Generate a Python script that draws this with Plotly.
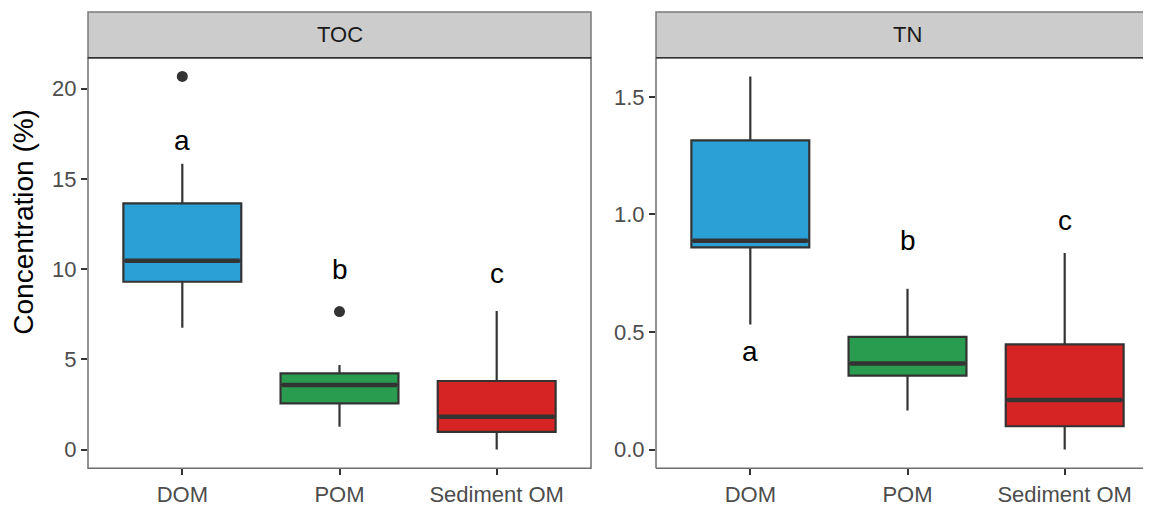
import plotly.graph_objects as go

categories = ["DOM", "POM", "Sediment OM"]
colors = ["#2ba0d7", "#2a9c4f", "#d62424"]

toc_lower = [6.75, 1.27, 0.0]
toc_q1 = [9.3, 2.56, 0.98]
toc_median = [10.46, 3.58, 1.82]
toc_q3 = [13.64, 4.22, 3.8]
toc_upper = [15.84, 4.68, 7.68]
toc_out_x = [0, 1]
toc_out_y = [20.68, 7.65]
toc_letters = ["a", "b", "c"]
toc_letter_y = [17.15, 10.0, 9.74]

tn_lower = [0.532, 0.166, 0.0]
tn_q1 = [0.86, 0.314, 0.099]
tn_median = [0.888, 0.366, 0.211]
tn_q3 = [1.315, 0.479, 0.447]
tn_upper = [1.587, 0.684, 0.836]
tn_letters = ["a", "b", "c"]
tn_letter_y = [0.415, 0.888, 0.972]

W, H = 1151, 507       # page (window) size
OFF = 8                # default body margin of the html page
FW, FH = W - OFF, H - OFF
BOXW = 0.75
FONT = "Liberation Sans, Arial, sans-serif"

# layout geometry (page pixels)
p1_l, p1_r = 88, 591
p2_l = 656
unit = (p1_r - p1_l) / 3.2
p2_r_full = p2_l + 3.2 * unit
top_px, bot_px, strip_top = 58, 471, 12


def fx(px):
    return (px - OFF) / FW


def fy(py):
    return 1 - (py - OFF) / FH


fig = go.Figure()

panels = [
    ("x", "y", toc_lower, toc_q1, toc_median, toc_q3, toc_upper, toc_letters, toc_letter_y),
    ("x2", "y2", tn_lower, tn_q1, tn_median, tn_q3, tn_upper, tn_letters, tn_letter_y),
]

for xa, ya, lo, q1, med, q3, up, letters, ly in panels:
    for i, c in enumerate(categories):
        fig.add_trace(go.Box(
            x=[i], q1=[q1[i]], median=[med[i]], q3=[q3[i]],
            lowerfence=[lo[i]], upperfence=[up[i]],
            width=BOXW, whiskerwidth=0,
            fillcolor=colors[i], line=dict(color="#333333", width=2.2),
            xaxis=xa, yaxis=ya, showlegend=False, hoverinfo="skip",
            boxpoints=False,
        ))
        fig.add_trace(go.Scatter(
            x=[i - BOXW / 2 + 0.01, i + BOXW / 2 - 0.01], y=[med[i], med[i]],
            mode="lines", line=dict(color="#333333", width=4.5),
            xaxis=xa, yaxis=ya, showlegend=False, hoverinfo="skip",
        ))
        fig.add_annotation(
            x=i, y=ly[i], xref=xa, yref=ya, text=letters[i], showarrow=False,
            yanchor="middle", xanchor="center",
            font=dict(family=FONT, size=28, color="#000000"),
        )

fig.add_trace(go.Scatter(
    x=toc_out_x, y=toc_out_y, mode="markers",
    marker=dict(color="#333333", size=11),
    xaxis="x", yaxis="y", showlegend=False, hoverinfo="skip",
))

tickfont = dict(family=FONT, size=22, color="#4d4d4d")
common_x = dict(
    tickmode="array", tickvals=[0, 1, 2], ticktext=categories,
    showgrid=False, zeroline=False, showline=False,
    ticks="outside", ticklen=6, tickwidth=1.5, tickcolor="#333333",
    tickfont=tickfont, fixedrange=True,
)
common_y = dict(
    showgrid=False, zeroline=False, showline=False,
    ticks="outside", ticklen=6, tickwidth=1.5, tickcolor="#333333",
    tickfont=tickfont, fixedrange=True,
)

ydom = [fy(bot_px), fy(top_px)]
fig.update_layout(
    width=FW, height=FH,
    margin=dict(l=0, r=0, t=0, b=0),
    paper_bgcolor="white", plot_bgcolor="white",
    xaxis=dict(domain=[fx(p1_l), fx(p1_r)], range=[-0.6, 2.6], anchor="y", **common_x),
    yaxis=dict(domain=ydom, range=[-1.035, 21.72], anchor="x",
               tickvals=[0, 5, 10, 15, 20], **common_y),
    xaxis2=dict(domain=[fx(p2_l), 1.0],
                range=[-0.6, -0.6 + (W - p2_l) / unit], anchor="y2", **common_x),
    yaxis2=dict(domain=ydom, range=[-0.0795, 1.6665], anchor="x2",
                tickvals=[0, 0.5, 1.0, 1.5], ticktext=["0.0", "0.5", "1.0", "1.5"],
                **common_y),
    font=dict(family=FONT),
)

frame = dict(color="#6e6e6e", width=1.5)
strip_line = dict(color="#333333", width=1.5)
# left panel frame
fig.add_shape(type="rect", xref="paper", yref="paper",
              x0=fx(p1_l), x1=fx(p1_r), y0=fy(bot_px), y1=fy(top_px), line=frame)
# right panel frame (right side lies outside the picture)
for (x0, y0, x1, y1) in [(p2_l, top_px, p2_l, bot_px), (p2_l, bot_px, W + 5, bot_px)]:
    fig.add_shape(type="line", xref="paper", yref="paper",
                  x0=fx(x0), x1=fx(x1), y0=fy(y0), y1=fy(y1), line=frame)
# strips
for (l, r) in [(p1_l, p1_r), (p2_l, W + 5)]:
    fig.add_shape(type="rect", xref="paper", yref="paper",
                  x0=fx(l), x1=fx(r), y0=fy(top_px), y1=fy(strip_top),
                  fillcolor="#cccccc", line=dict(color="#7a7a7a", width=1.5), layer="below")
    fig.add_shape(type="line", xref="paper", yref="paper",
                  x0=fx(l), x1=fx(r), y0=fy(top_px), y1=fy(top_px), line=strip_line)
for label, l, r in [("TOC", p1_l, p1_r), ("TN", p2_l, p2_r_full)]:
    fig.add_annotation(x=fx((l + r) / 2), y=fy((strip_top + top_px) / 2),
                       xref="paper", yref="paper", text=label, showarrow=False,
                       xanchor="center", yanchor="middle",
                       font=dict(family=FONT, size=22, color="#1a1a1a"))

fig.add_annotation(x=fx(24), y=fy(223), xref="paper", yref="paper",
                   text="Concentration (%)", textangle=-90, showarrow=False,
                   xanchor="center", yanchor="middle",
                   font=dict(family=FONT, size=28, color="#000000"))

fig.write_html("out.html")
